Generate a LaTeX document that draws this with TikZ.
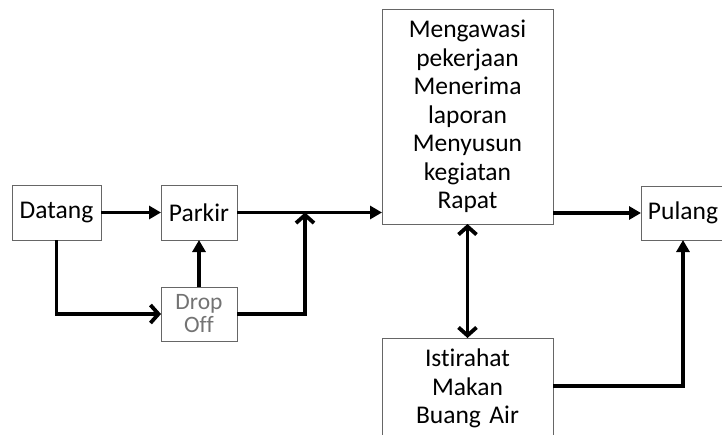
\documentclass[tikz,border=0pt]{standalone}
\usepackage{fontspec}
\setmainfont{Carlito}[Ligatures=NoCommon]
\usetikzlibrary{arrows.meta,positioning}
\tikzset{
  box/.style = {rectangle, draw=black!60, line width=0.9pt, align=center, outer sep=0pt,
                font=\fontsize{25.5}{28.5}\selectfont},
  flow/.style = {line width=3.8pt, -{Triangle[length=12pt,width=13pt]}},
  open/.style = {line width=3.8pt, -{Straight Barb[length=8pt,width=18pt]}},
  twoway/.style = {line width=3.8pt, {Straight Barb[length=8pt,width=18pt]}-{Straight Barb[length=8pt,width=18pt]}}
}

\begin{document}
\begin{tikzpicture}[x=1pt,y=-1pt]
\useasboundingbox (0,0) rectangle (722,434);

\node [box, minimum width=89pt, minimum height=55pt] (datang) at (56.5,212.5) {Datang};
\node [box, minimum width=76pt, minimum height=55pt] (parkir) at (199,212.5) {Parkir};
\node [box, minimum width=76pt, minimum height=54pt, text=black!55,
       font=\fontsize{23.5}{23}\selectfont] (dropoff) at (199,314) {Drop\\Off};
\node [box, text width=171pt, inner xsep=0pt, minimum height=215pt] (main) at (467.5,116.5)
  {Mengawasi\\pekerjaan\\Menerima\\laporan\\Menyusun\\kegiatan\\Rapat};
\node [box, minimum width=84pt, minimum height=54pt, anchor=west] (pulang) at (641,213) {Pulang};
\node [box, text width=171pt, inner xsep=0pt, inner ysep=11pt, anchor=north] (istirahat) at (467.5,338)
  {Istirahat\\Makan\\Buang Air\rule[-14pt]{0pt}{14pt}};

\coordinate (merge) at (305,212.5);

\draw[flow] (datang) -- (parkir);
\draw[open] (datang.south) |- (dropoff.west);
\draw[flow] (dropoff.north) -- (parkir.south);
\draw[flow] (parkir.east) -- (parkir.east -| main.west);
\draw[open] (dropoff.east) -| (merge);
\draw[flow] (main.east |- pulang.west) -- (pulang.west);
\draw[twoway] (main.south) -- (istirahat.north);
\draw[flow] ([yshift=-48pt]istirahat.north east) -| (pulang.south);

\end{tikzpicture}
\end{document}
